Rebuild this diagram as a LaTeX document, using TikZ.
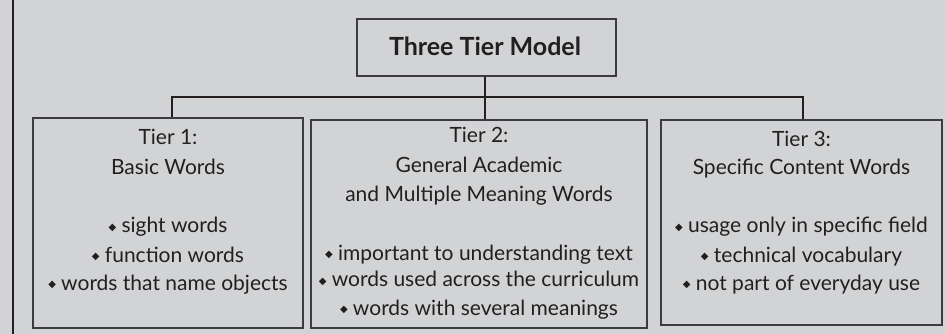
\documentclass[tikz,border=0pt]{standalone}
\usepackage{fontspec}
\setmainfont{Lato}
\newfontfamily\dejavu{DejaVu Sans}
\definecolor{bg}{HTML}{D2D3D5}
\definecolor{ink}{HTML}{231F20}
\definecolor{boxline}{HTML}{3C3C3E}
\newcommand{\bul}{\raisebox{0.12em}{\dejavu\fontsize{10}{10}\selectfont ◆}\hspace{0.25em}}
\begin{document}
\begin{tikzpicture}[x=1pt,y=-1pt,
  boxst/.style={draw=boxline,line width=1.2pt,minimum width=#1,inner sep=0pt},
  txt/.style={anchor=base,inner sep=0pt,text=ink,font=\fontsize{21}{21}\selectfont},
  conn/.style={draw=ink,line width=2pt}]
\useasboundingbox (0,0) rectangle (946,334);
\fill[bg] (0,0) rectangle (946,334);
\draw[ink,line width=2.4pt] (13,0) -- (13,334);
% boxes
\node[boxst=259pt,minimum height=57pt] (top) at (486.5,47.5) {};
\node[boxst=270pt,minimum height=210pt] (t1) at (168,223) {};
\node[boxst=336pt,minimum height=208pt] (t2) at (479,224) {};
\node[boxst=281pt,minimum height=205pt] (t3) at (801.5,222.5) {};
% title
\node[txt,font=\fontsize{25}{25}\selectfont\bfseries] (title) at (485,56) {Three Tier Model};
% connectors
\coordinate (b1) at (172,97);
\coordinate (b2) at (485,97);
\coordinate (b3) at (803,97);
\draw[conn] (b2 |- top.south) -- (b2 |- t2.north);
\draw[conn] (b1 |- t1.north) -- (b1) -- (b3) -- (b3 |- t3.north);
% tier 1
\node[txt] (h1a) at (168,145) {Tier 1:};
\node[txt] (h1b) at (168,175) {Basic Words};
\node[txt] (p1a) at (168,233) {\bul sight words};
\node[txt] (p1b) at (168,262) {\bul function words};
\node[txt] (p1c) at (168,290) {\bul words that name objects};
% tier 2
\node[txt] (h2a) at (479,143) {Tier 2:};
\node[txt] (h2b) at (479,173) {General Academic};
\node[txt] (h2c) at (479,201) {and Multiple Meaning Words};
\node[txt] (p2a) at (479,260) {\bul important to understanding text};
\node[txt] (p2b) at (479,287) {\bul words used across the curriculum};
\node[txt] (p2c) at (479,315) {\bul words with several meanings};
% tier 3
\node[txt] (h3a) at (801.5,147) {Tier 3:};
\node[txt] (h3b) at (801.5,175) {Specific Content Words};
\node[txt] (p3a) at (801.5,233) {\bul usage only in specific field};
\node[txt] (p3b) at (801.5,262) {\bul technical vocabulary};
\node[txt] (p3c) at (801.5,290) {\bul not part of everyday use};
\end{tikzpicture}
\end{document}
